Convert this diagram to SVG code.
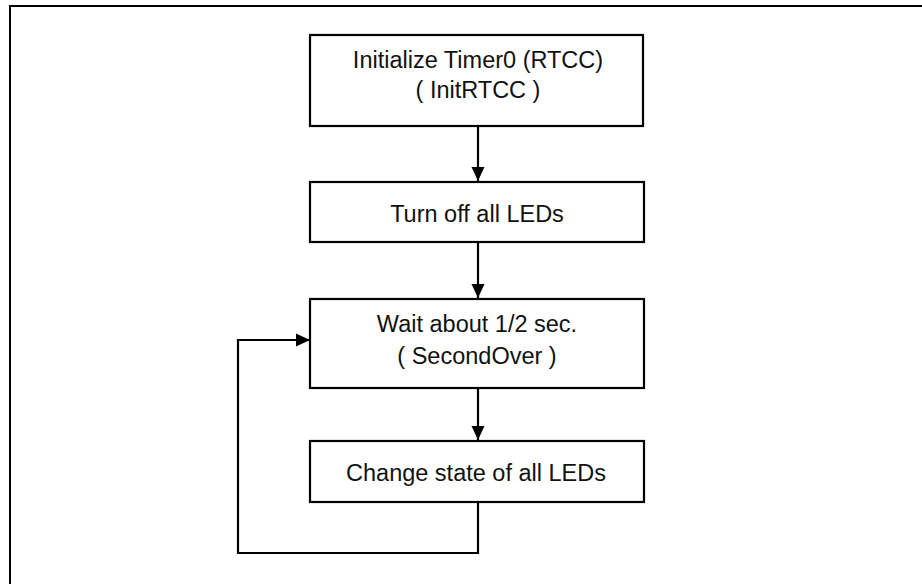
<svg xmlns="http://www.w3.org/2000/svg" width="922" height="584" viewBox="0 0 922 584">
<style>
.box{fill:#fff;stroke:#000;stroke-width:2.2}
.t{font-family:"Liberation Sans",Arial,sans-serif;font-size:23.5px;fill:#111;text-anchor:middle}
.c{fill:none;stroke:#000;stroke-width:2.2}
</style>
<defs>
<marker id="ah" markerUnits="userSpaceOnUse" markerWidth="15" markerHeight="15" viewBox="0 0 15 15" refX="14" refY="7.5" orient="auto">
<path d="M0,1 L14,7.5 L0,14 Z" fill="#000"/>
</marker>
</defs>
<polyline points="10,584 10,6 922,6" fill="none" stroke="#000" stroke-width="2"/>
<g id="n1"><rect class="box" x="310" y="35" width="333" height="91"/>
<text class="t" x="478" y="68">Initialize Timer0 (RTCC)</text>
<text class="t" x="478" y="98">( InitRTCC )</text></g>
<g id="n2"><rect class="box" x="310" y="182" width="334" height="60"/>
<text class="t" x="477" y="222">Turn off all LEDs</text></g>
<g id="n3"><rect class="box" x="310" y="299" width="334" height="89"/>
<text class="t" x="477" y="332">Wait about 1/2 sec.</text>
<text class="t" x="477" y="364">( SecondOver )</text></g>
<g id="n4"><rect class="box" x="310" y="441" width="334" height="61"/>
<text class="t" x="476" y="481">Change state of all LEDs</text></g>
<g id="connectors">
<line class="c" x1="478" y1="126" x2="478" y2="181" marker-end="url(#ah)"/>
<line class="c" x1="478" y1="242" x2="478" y2="298" marker-end="url(#ah)"/>
<line class="c" x1="478" y1="388" x2="478" y2="440" marker-end="url(#ah)"/>
<polyline class="c" points="478,502 478,553 238,553 238,340 310,340" marker-end="url(#ah)"/>
</g>
</svg>
